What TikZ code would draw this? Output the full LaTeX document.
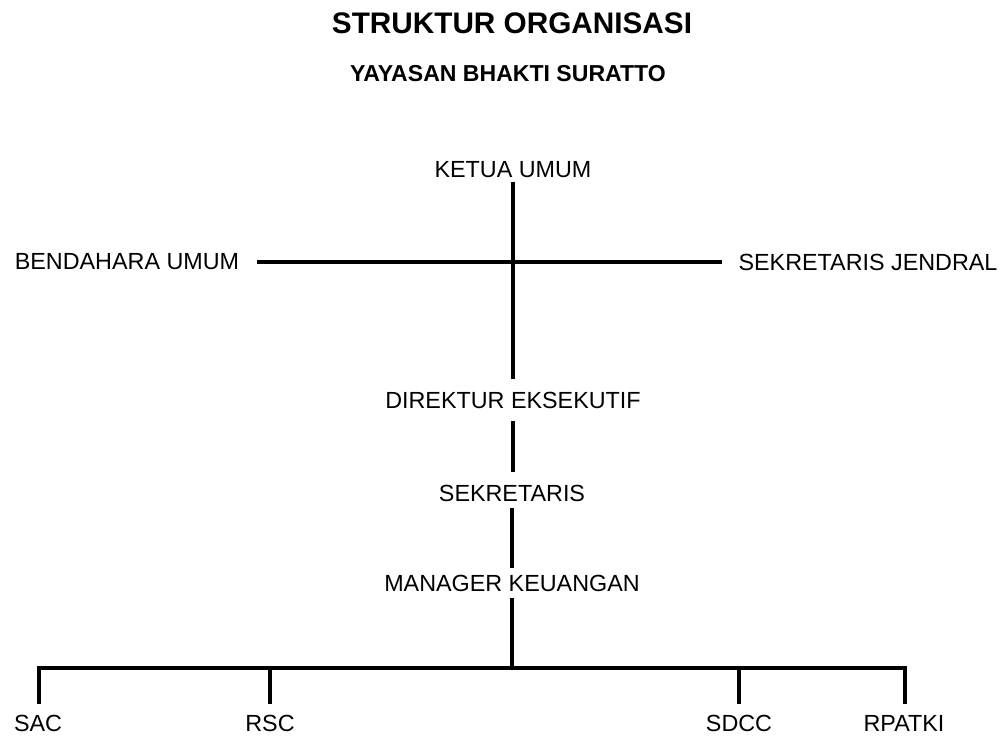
\documentclass[tikz,border=0pt]{standalone}
\usepackage{fontspec}
\setmainfont{Liberation Sans}
\usetikzlibrary{calc, positioning}

\tikzset{
    jabatan/.style={inner sep=0pt, font=\fontsize{17.5}{20}\selectfont},
    garis/.style={line width=2.3pt},
}

\begin{document}
\begin{tikzpicture}[x=0.75pt, y=-0.75pt]

    \useasboundingbox (0,0) rectangle (1007,740);

    % =================================================================
    % 1. JUDUL
    % =================================================================
    \node[font=\bfseries\fontsize{22.3}{26}\selectfont] (judul) at (512,23.5) {STRUKTUR ORGANISASI};
    \node[font=\bfseries\fontsize{17.3}{20}\selectfont] (subjudul) at (508,74) {YAYASAN BHAKTI SURATTO};

    % =================================================================
    % 2. JABATAN
    % =================================================================
    \node[jabatan] (ketua) at (513,170) {KETUA UMUM};
    \node[jabatan] (bendahara) at (127,262) {BENDAHARA UMUM};
    \node[jabatan] (sekjen) at (868,262) {SEKRETARIS JENDRAL};
    \node[jabatan] (direktur) at (513,400) {DIREKTUR EKSEKUTIF};
    \node[jabatan] (sekretaris) at (512,493) {SEKRETARIS};
    \node[jabatan] (manager) at (512,583) {MANAGER KEUANGAN};

    \node[jabatan] (sac) at (38,723) {SAC};
    \node[jabatan] (rsc) at (270,723) {RSC};
    \node[jabatan] (sdcc) at (739,723) {SDCC};
    \node[jabatan] (rpatki) at (904,723) {RPATKI};

    % =================================================================
    % 3. GARIS PENGHUBUNG
    % =================================================================
    \draw[garis, shorten <=3pt, shorten >=9.5pt] (ketua.south) -- (ketua.south |- direktur.north);
    \draw[garis, shorten <=13.5pt, shorten >=12pt] (bendahara.east) -- (sekjen.west);
    \draw[garis, shorten <=9.5pt, shorten >=9.5pt] (direktur.south) -- (direktur.south |- sekretaris.north);
    \draw[garis, shorten <=5pt, shorten >=5pt] (sekretaris.south) -- (sekretaris.south |- manager.north);

    % garis cabang bawah
    \coordinate (busL) at (39,668);
    \coordinate (busR) at (905,668);
    \draw[garis, shorten <=5pt] (manager.south) -- (manager.south |- busL);
    \draw[garis, line cap=rect] (busL) -- (busR);
    \draw[garis, shorten >=8pt] (busL) -- (busL |- sac.north);
    \draw[garis, shorten >=8pt] (rsc.north |- busL) -- (rsc.north);
    \draw[garis, shorten >=8pt] (sdcc.north |- busL) -- (sdcc.north);
    \draw[garis, shorten >=8pt] (busR) -- (busR |- rpatki.north);

\end{tikzpicture}
\end{document}
